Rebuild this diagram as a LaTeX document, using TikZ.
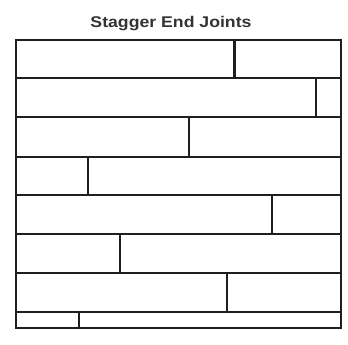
\documentclass[tikz,border=0pt]{standalone}
\usepackage{fontspec}
\setmainfont{Liberation Sans}
\begin{document}
\begin{tikzpicture}[x=1pt,y=-1pt,
  board/.style={line width=2.2pt,draw=black!88},
  title/.style={font=\bfseries\fontsize{15.5}{18}\selectfont,text=black!80,xscale=1.14,inner sep=0pt}]
\useasboundingbox[fill=white] (0,0) rectangle (348,345);
\node[title,anchor=base] (t) at (171,28) {Stagger End Joints};
% horizontal joints
\foreach \y in {78,117,157,195,234,273,312}{
  \draw[board] (16,\y) -- (341,\y);
}
% end joints
\draw[board] (234.5,40) -- (234.5,78);
\draw[board] (316,78) -- (316,117);
\draw[board] (189,117) -- (189,157);
\draw[board] (88,157) -- (88,195);
\draw[board] (272,195) -- (272,234);
\draw[board] (120,234) -- (120,273);
\draw[board] (227,273) -- (227,312);
\draw[board] (79,312) -- (79,328);
% outer frame
\draw[board] (16,40) rectangle (341,328);
\end{tikzpicture}
\end{document}
